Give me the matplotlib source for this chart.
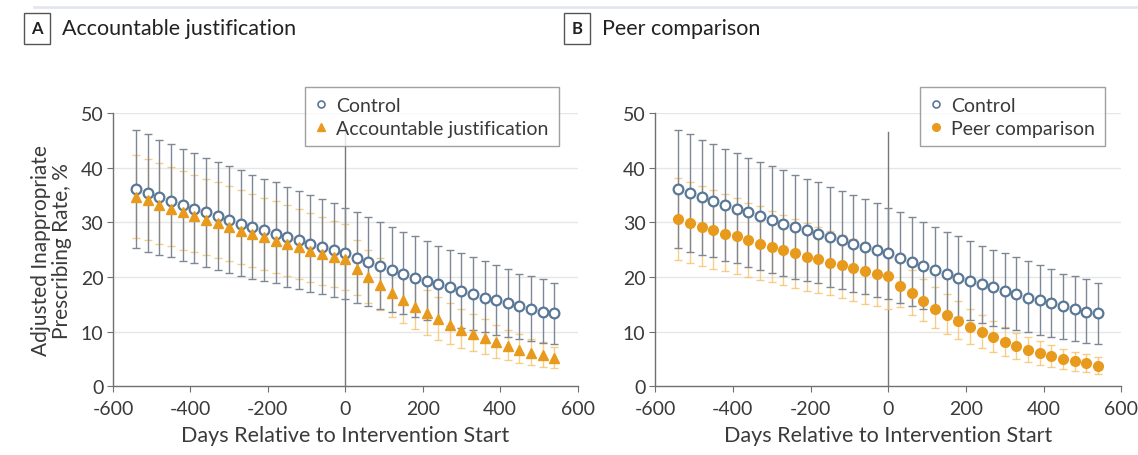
import matplotlib
matplotlib.use('Agg')
import matplotlib.pyplot as plt
from matplotlib.lines import Line2D

plt.rcParams['font.family'] = ['Lato', 'DejaVu Sans']
plt.rcParams['axes.unicode_minus'] = False

# days relative to intervention start
days = [-540, -510, -480, -450, -420, -390, -360, -330, -300, -270, -240, -210, -180,
        -150, -120, -90, -60, -30, 0, 30, 60, 90, 120, 150, 180, 210, 240, 270, 300,
        330, 360, 390, 420, 450, 480, 510, 540]

# control arm (estimate, upper and lower CI)
ctrl = [36.0, 35.3, 34.6, 33.8, 33.1, 32.5, 31.8, 31.1, 30.5, 29.7, 29.2, 28.6, 27.8,
        27.3, 26.7, 26.0, 25.4, 24.9, 24.4, 23.4, 22.8, 22.0, 21.3, 20.6, 19.8, 19.3,
        18.7, 18.2, 17.4, 16.9, 16.2, 15.7, 15.2, 14.7, 14.1, 13.6, 13.3]
ctrl_hi = [46.8, 46.1, 45.1, 44.4, 43.4, 42.7, 41.8, 41.1, 40.3, 39.5, 38.7, 37.9, 37.3,
           36.5, 35.7, 34.9, 34.2, 33.5, 32.7, 31.8, 30.9, 30.1, 29.1, 28.3, 27.4, 26.6,
           25.7, 24.9, 24.3, 23.6, 22.9, 22.1, 21.4, 20.6, 20.1, 19.6, 18.8]
ctrl_lo = [25.3, 24.6, 24.0, 23.6, 22.9, 22.5, 21.9, 21.3, 20.8, 20.2, 19.7, 19.2, 18.8,
           18.2, 17.7, 17.3, 16.9, 16.4, 15.9, 15.3, 14.7, 14.1, 13.6, 13.2, 12.7, 12.1,
           11.6, 11.0, 10.7, 10.3, 9.9, 9.3, 9.0, 8.7, 8.3, 7.9, 7.7]

# accountable justification arm
aj = [34.7, 34.0, 33.2, 32.5, 31.8, 31.1, 30.5, 29.8, 29.1, 28.4, 27.8, 27.3, 26.6,
      26.0, 25.4, 24.8, 24.2, 23.7, 23.2, 21.5, 19.9, 18.5, 17.0, 15.8, 14.5, 13.3,
      12.2, 11.2, 10.3, 9.6, 8.8, 8.0, 7.3, 6.7, 6.1, 5.7, 5.1]
aj_hi = [42.3, 41.6, 40.9, 40.1, 39.4, 38.7, 38.0, 37.3, 36.6, 35.9, 35.2, 34.5, 33.8,
         33.1, 32.4, 31.7, 31.0, 30.3, 29.6, 26.8, 25.0, 23.4, 21.8, 20.4, 19.0, 17.6,
         16.4, 15.2, 14.2, 13.2, 12.2, 11.2, 10.3, 9.5, 8.7, 8.0, 7.2]
aj_lo = [27.2, 26.7, 26.1, 25.6, 25.0, 24.5, 24.0, 23.4, 22.9, 22.3, 21.8, 21.2, 20.7,
         20.2, 19.6, 19.1, 18.6, 18.1, 17.6, 16.6, 15.2, 13.9, 12.6, 11.5, 10.4, 9.4,
         8.5, 7.7, 7.0, 6.4, 5.8, 5.2, 4.7, 4.2, 3.8, 3.5, 3.3]

# peer comparison arm
pc = [30.6, 29.9, 29.2, 28.6, 27.9, 27.4, 26.7, 26.1, 25.5, 25.0, 24.4, 23.7, 23.3,
      22.6, 22.2, 21.6, 21.0, 20.6, 20.1, 18.4, 17.0, 15.6, 14.2, 13.0, 11.9, 10.8,
      9.9, 9.0, 8.1, 7.3, 6.7, 6.1, 5.5, 4.9, 4.6, 4.2, 3.7]
pc_hi = [38.1, 37.4, 36.6, 35.9, 35.1, 34.4, 33.6, 32.9, 32.1, 31.4, 30.6, 29.9, 29.2,
         28.4, 27.7, 27.0, 26.2, 25.5, 24.8, 22.9, 21.3, 19.7, 18.2, 16.8, 15.5, 14.2,
         13.0, 11.9, 10.8, 9.8, 9.0, 8.2, 7.5, 6.8, 6.3, 5.8, 5.4]
pc_lo = [23.0, 22.5, 22.0, 21.5, 21.0, 20.5, 20.0, 19.5, 19.0, 18.5, 18.0, 17.5, 17.0,
         16.6, 16.1, 15.6, 15.1, 14.7, 14.2, 14.4, 13.1, 11.9, 10.7, 9.6, 8.6, 7.7,
         6.9, 6.2, 5.5, 4.9, 4.4, 3.9, 3.5, 3.1, 2.8, 2.5, 2.2]

orange = '#e89a1c'
orange_bar = '#f4c267'
blue_edge = '#5a7896'
grey_bar = '#7d8894'
axis_col = '#707070'
text_col = '#3a3a3a'

fig = plt.figure(figsize=(11.38, 4.56), dpi=100)
fig.add_artist(Line2D([0.03, 1.0], [0.982, 0.982], color='#e3e6f2', lw=2))

ax_a = fig.add_axes([0.0993, 0.151, 0.4082, 0.599])
ax_b = fig.add_axes([0.5757, 0.151, 0.4097, 0.599])


def panel(ax, est, hi, lo, marker, label, legx):
    ax.set_xlim(-600, 600)
    ax.set_ylim(0, 50)
    for s in ['top', 'right']:
        ax.spines[s].set_visible(False)
    for s in ['left', 'bottom']:
        ax.spines[s].set_color(axis_col)
        ax.spines[s].set_linewidth(1.0)
    ax.set_yticks([0, 10, 20, 30, 40, 50])
    ax.set_xticks([-600, -400, -200, 0, 200, 400, 600])
    ax.tick_params(colors=axis_col, labelcolor=text_col, labelsize=14, length=4)
    ax.tick_params(axis='x', pad=6)
    ax.tick_params(axis='y', pad=3)
    for yv in [10, 20, 30, 40, 50]:
        ax.axhline(yv, color='#e6e6e6', lw=1, zorder=0)
    ax.axvline(0, ymin=0, ymax=0.93, color='#777777', lw=1, zorder=1)

    yerr_o = [[e - l for e, l in zip(est, lo)], [h - e for e, h in zip(est, hi)]]
    ax.errorbar(days, est, yerr=yerr_o, fmt='none', ecolor=orange_bar, elinewidth=1,
                capsize=3, capthick=1, alpha=0.8, zorder=2)
    yerr_c = [[e - l for e, l in zip(ctrl, ctrl_lo)], [h - e for e, h in zip(ctrl, ctrl_hi)]]
    ax.errorbar(days, ctrl, yerr=yerr_c, fmt='none', ecolor=grey_bar, elinewidth=1,
                capsize=3, capthick=1, zorder=3)
    ax.plot(days, ctrl, 'o', ms=7, mfc='white', mec=blue_edge, mew=1.6, ls='none', zorder=4)
    ax.plot(days, est, marker, ms=7 if marker == 'o' else 7.5, color=orange, ls='none', zorder=5)

    ax.set_xlabel('Days Relative to Intervention Start', fontsize=15.5, color=text_col, labelpad=6)

    handles = [Line2D([], [], marker='o', ls='none', ms=5, mfc='white', mec=blue_edge, mew=1.2),
               Line2D([], [], marker=marker, ls='none', ms=5.5, color=orange)]
    leg = ax.legend(handles, ['Control', label], loc='upper left', bbox_to_anchor=(legx, 1.095),
                    fontsize=14, frameon=True, fancybox=False, handlelength=0.6,
                    handletextpad=0.5, borderpad=0.5, labelspacing=0.3, borderaxespad=0)
    for t in leg.get_texts():
        t.set_color(text_col)
    leg.get_frame().set_edgecolor('#888888')
    leg.get_frame().set_linewidth(1.0)
    leg.set_zorder(10)


panel(ax_a, aj, aj_hi, aj_lo, '^', 'Accountable justification', 0.414)
panel(ax_b, pc, pc_hi, pc_lo, 'o', 'Peer comparison', 0.568)

ax_a.set_ylabel('Adjusted Inappropriate\nPrescribing Rate, %', fontsize=15, color=text_col,
                labelpad=6, linespacing=1.1)

for px, letter, title in [(37, 'A', 'Accountable justification'), (577, 'B', 'Peer comparison')]:
    fig.text(px / 1138, 1 - 29 / 456, letter, ha='center', va='center', fontsize=12,
             fontweight='bold', color='#222222',
             bbox=dict(boxstyle='square,pad=0.45', fc='white', ec='#555555', lw=1))
    fig.text((px + 25) / 1138, 1 - 29 / 456, title, ha='left', va='center', fontsize=15.5,
             color='#222222')

fig.savefig('out.png', dpi=100)
